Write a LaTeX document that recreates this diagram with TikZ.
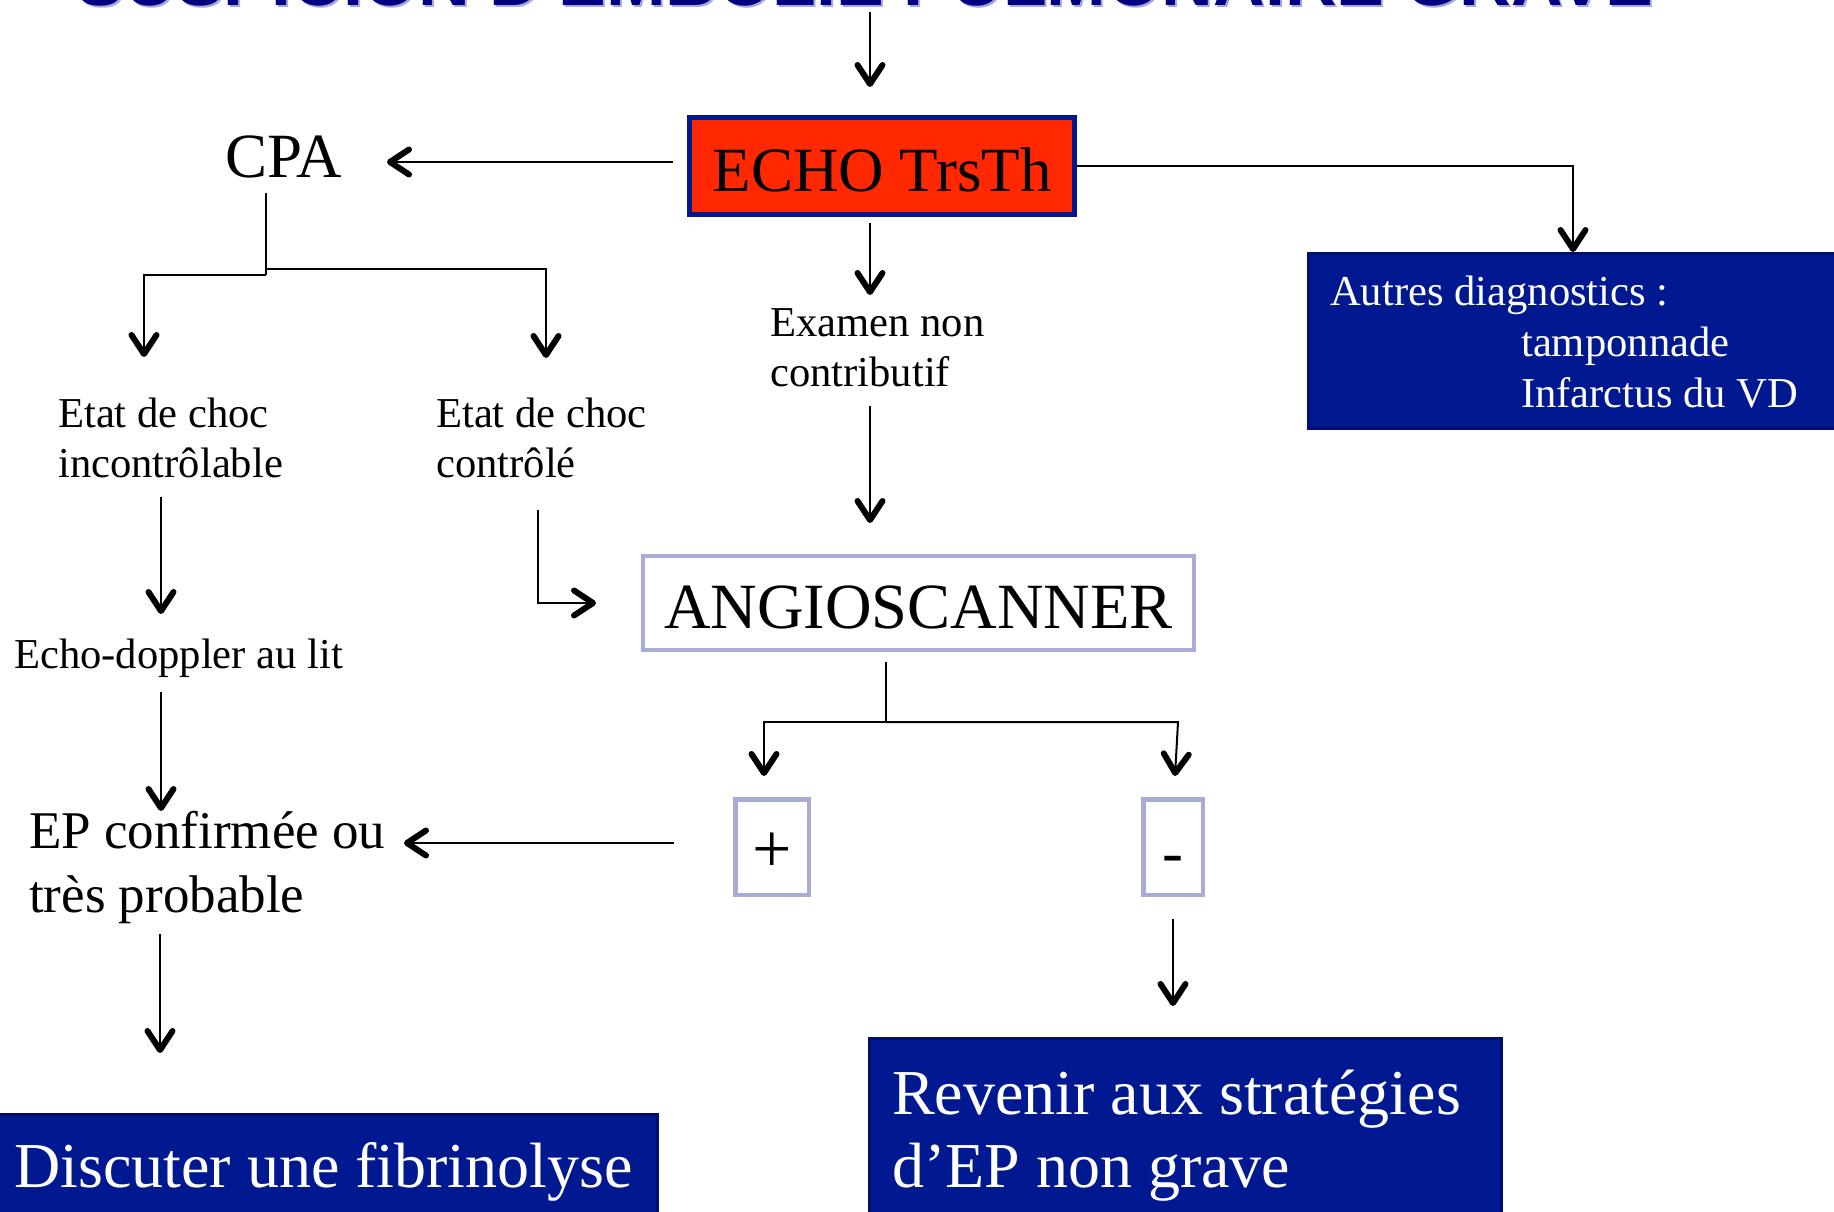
\documentclass[tikz,border=0pt]{standalone}
\usepackage{fontspec}
\setmainfont{Liberation Serif}
\newfontfamily\titlefont{Liberation Sans}
\usepackage{graphicx}
\usetikzlibrary{arrows.meta}
\definecolor{navyfill}{RGB}{0,24,144}
\definecolor{navyline}{RGB}{0,14,110}
\definecolor{echored}{RGB}{255,40,0}
\definecolor{lav}{RGB}{170,172,216}
\definecolor{titleblue}{RGB}{0,0,128}
\definecolor{titleshade}{RGB}{168,168,220}
\newcommand\twol[2]{\begin{tabular}[t]{@{}l@{}}#1\\#2\end{tabular}}
\begin{document}
\begin{tikzpicture}[x=1pt,y=-1pt,
  conn/.style={draw=black, line width=2pt},
  arr/.style={conn, -{Straight Barb[length=19pt,width=25pt,line width=6pt 0 1,round]}},
  txt/.style={inner sep=0pt, anchor=base west, text=black},
  smalltxt/.style={txt, font=\fontsize{42.6}{50}\selectfont},
  bigtxt/.style={txt, font=\fontsize{63}{75}\selectfont},
  eptxt/.style={txt, font=\fontsize{53}{64}\selectfont},
  boxtxt/.style={txt, text=white, font=\fontsize{64}{73}\selectfont},
  echobox/.style={draw=navyfill, fill=echored, line width=5pt, inner sep=0pt,
    font=\fontsize{63}{75}\selectfont},
  lavbox/.style={draw=lav, line width=4.5pt, inner sep=0pt, font=\fontsize{63}{75}\selectfont},
  navybox/.style={draw=navyline, fill=navyfill, line width=3pt, inner sep=0pt, anchor=north west},
  titletxt/.style={inner sep=0pt, anchor=base, font=\titlefont\bfseries\fontsize{72}{72}\selectfont}
]
\useasboundingbox (0,0) rectangle (1834,1212);
\clip (0,0) rectangle (1834,1212);

% title (cut off at the top)
\node[titletxt, text=titleshade] (titleshadow) at (867,8) {\resizebox{1576pt}{\height}{SUSPICION D'EMBOLIE PULMONAIRE GRAVE}};
\node[titletxt, text=titleblue] (title) at (865,6) {\resizebox{1576pt}{\height}{SUSPICION D'EMBOLIE PULMONAIRE GRAVE}};

% boxes
\node[echobox, minimum width=385pt, minimum height=97pt, text height=50pt, text depth=0pt] (echo) at (882,166) {ECHO TrsTh};
\node[lavbox, minimum width=551pt, minimum height=94pt, text height=50pt, text depth=0pt, font=\fontsize{64.5}{75}\selectfont] (angio) at (918.5,603) {ANGIOSCANNER};
\node[lavbox, minimum width=73.5pt, minimum height=95.5pt, text height=50pt, text depth=0pt, font=\fontsize{70}{75}\selectfont] (plus) at (772,847) {+};
\node[lavbox, minimum width=59.5pt, minimum height=95.5pt, text height=52pt, text depth=0pt] (minus) at (1173,847) {-};
\node[navybox, minimum width=600pt, minimum height=175pt] (autres) at (1307,252) {};
\node[navybox, minimum width=676pt, minimum height=150pt] (discuter) at (-20,1113) {};
\node[navybox, minimum width=632pt, minimum height=200pt] (revenir) at (868,1037) {};

% texts
\node[bigtxt] (cpa) at (225,177) {CPA};
\node[smalltxt] (examen) at (770,336) {\twol{Examen non}{contributif}};
\node[smalltxt] (etat1) at (58,427) {\twol{Etat de choc}{incontrôlable}};
\node[smalltxt] (etat2) at (436,427) {\twol{Etat de choc}{contrôlé}};
\node[smalltxt] (echodop) at (14,668) {Echo-doppler au lit};
\node[eptxt] (ep) at (29,848) {\twol{EP confirmée ou}{très probable}};
\node[txt, text=white, font=\fontsize{42.6}{51}\selectfont] (autrestxt) at (1330,305)
  {\begin{tabular}[t]{@{}l@{}}Autres diagnostics :\\\hspace*{191pt}tamponnade\\\hspace*{191pt}Infarctus du VD\end{tabular}};
\node[boxtxt] (discutertxt) at (14,1187) {Discuter une fibrinolyse};
\node[boxtxt] (revenirtxt) at (892,1114) {\twol{Revenir aux stratégies}{d’EP non grave}};

% connector end points
\coordinate (title-out) at (870,12);
\coordinate (echo-in) at (870,87);
\coordinate (echo-l) at (673,162);
\coordinate (cpa-in) at (387,162);
\coordinate (echo-r) at (1077,166);
\coordinate (autres-in) at (1573,252);
\coordinate (echo-b) at (870,223);
\coordinate (examen-in) at (870,295);
\coordinate (examen-out) at (870,406);
\coordinate (angio-top) at (870,523);
\coordinate (cpa-out) at (266,193);
\coordinate (cpa-j1) at (266,275);
\coordinate (cpa-j2) at (266,269);
\coordinate (etat1-in) at (144,357);
\coordinate (etat2-in) at (546,358);
\coordinate (etat1-out) at (161,497);
\coordinate (echodop-in) at (161,614);
\coordinate (echodop-out) at (161,692);
\coordinate (ep-top) at (161,811);
\coordinate (etat2-out) at (538,510);
\coordinate (angio-left) at (596,603);
\coordinate (angio-out) at (886,662);
\coordinate (angio-j) at (886,722);
\coordinate (minus-j) at (1178,722);
\coordinate (plus-in) at (764,776);
\coordinate (minus-in) at (1175,776);
\coordinate (plus-out) at (674,843);
\coordinate (ep-right) at (404,843);
\coordinate (minus-out) at (1173,919);
\coordinate (revenir-in) at (1173,1006);
\coordinate (ep-out) at (160,934);
\coordinate (discuter-in) at (160,1053);

% connectors
\draw[arr] (title-out) -- (echo-in);
\draw[arr] (echo-l) -- (cpa-in);
\draw[arr] (echo-r) -| (autres-in);
\draw[arr] (echo-b) -- (examen-in);
\draw[arr] (examen-out) -- (angio-top);
\draw[conn] (cpa-out) -- (cpa-j1);
\draw[arr] (cpa-j1) -| (etat1-in);
\draw[arr] (cpa-j2) -| (etat2-in);
\draw[arr] (etat1-out) -- (echodop-in);
\draw[arr] (echodop-out) -- (ep-top);
\draw[arr] (etat2-out) |- (angio-left);
\draw[conn] (angio-out) -- (angio-j);
\draw[arr] (angio-j) -| (plus-in);
\draw[arr] (angio-j) -- (minus-j) -- (minus-in);
\draw[arr] (plus-out) -- (ep-right);
\draw[arr] (minus-out) -- (revenir-in);
\draw[arr] (ep-out) -- (discuter-in);
\end{tikzpicture}
\end{document}
